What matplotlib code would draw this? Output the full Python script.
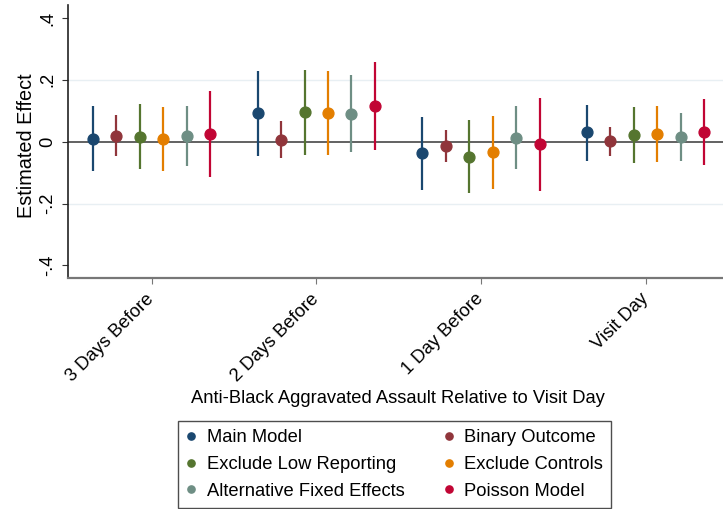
import matplotlib
matplotlib.use("Agg")
import matplotlib.pyplot as plt
from matplotlib.lines import Line2D
import numpy as np

plt.rcParams["font.family"] = ["Liberation Sans", "DejaVu Sans"]

periods = ["3 Days Before", "2 Days Before", "1 Day Before", "Visit Day"]
models = ["Main Model", "Binary Outcome", "Exclude Low Reporting",
          "Exclude Controls", "Alternative Fixed Effects", "Poisson Model"]
colors = ["#1a476f", "#90353b", "#55752f", "#e37e00", "#6e8e84", "#c10534"]

# point estimates per model, one value per period
est_main = [0.010, 0.092, -0.037, 0.031]
est_binary = [0.019, 0.006, -0.015, 0.001]
est_exlow = [0.015, 0.097, -0.050, 0.023]
est_exctrl = [0.008, 0.094, -0.033, 0.025]
est_altfe = [0.019, 0.090, 0.012, 0.016]
est_poisson = [0.025, 0.116, -0.006, 0.030]

# confidence interval bounds
lo_main = [-0.096, -0.045, -0.155, -0.061]
hi_main = [0.114, 0.229, 0.080, 0.119]
lo_binary = [-0.046, -0.053, -0.067, -0.045]
hi_binary = [0.085, 0.068, 0.039, 0.047]
lo_exlow = [-0.087, -0.044, -0.167, -0.069]
hi_exlow = [0.122, 0.232, 0.071, 0.112]
lo_exctrl = [-0.096, -0.044, -0.154, -0.067]
hi_exctrl = [0.111, 0.229, 0.084, 0.114]
lo_altfe = [-0.080, -0.035, -0.090, -0.061]
hi_altfe = [0.116, 0.214, 0.116, 0.093]
lo_poisson = [-0.115, -0.026, -0.160, -0.077]
hi_poisson = [0.165, 0.257, 0.140, 0.139]

estimates = [est_main, est_binary, est_exlow, est_exctrl, est_altfe, est_poisson]
lows = [lo_main, lo_binary, lo_exlow, lo_exctrl, lo_altfe, lo_poisson]
highs = [hi_main, hi_binary, hi_exlow, hi_exctrl, hi_altfe, hi_poisson]

FS = 13.2

fig = plt.figure(figsize=(7.23, 5.09), dpi=100)
ax = fig.add_axes([0.094, 0.4544, 0.906, 0.5358])

x = np.arange(1, len(periods) + 1)
step = 0.1425
for i, (est, lo, hi, c) in enumerate(zip(estimates, lows, highs, colors)):
    xi = x + (i - 2.5) * step
    ax.vlines(xi, lo, hi, color=c, lw=1.6, zorder=3)
    ax.plot(xi, est, "o", color=c, ms=7.8, zorder=4)

ax.axhline(0, color="#555555", lw=1.3, zorder=2)
for g in (-0.2, 0.2):
    ax.axhline(g, color="#e8eff3", lw=1.0, zorder=1)

ax.set_xlim(0.492, 4.47)
ax.set_ylim(-0.44, 0.442)
ax.set_yticks([-0.4, -0.2, 0, 0.2, 0.4])
ax.set_yticklabels(["-.4", "-.2", "0", ".2", ".4"], rotation=90, va="center")
ax.set_xticks(x)
ax.set_xticklabels(periods, rotation=45, ha="right", va="center",
                   rotation_mode="anchor")
ax.tick_params(axis="both", labelsize=FS, color="#333333", length=4.5)
ax.tick_params(axis="y", pad=4)
ax.tick_params(axis="x", color="#777777", length=4, pad=9.5)

for s in ("top", "right"):
    ax.spines[s].set_visible(False)
ax.spines["left"].set_color("#222222")
ax.spines["bottom"].set_color("#777777")
ax.spines["left"].set_linewidth(1.2)
ax.spines["bottom"].set_linewidth(1.6)

ax.set_ylabel("Estimated Effect", fontsize=14.3, labelpad=2)
ax.yaxis.label.set_y(0.485)
fig.text(0.551, 0.218, "Anti-Black Aggravated Assault Relative to Visit Day",
         ha="center", va="center", fontsize=FS)

handles = [Line2D([], [], marker="o", ls="none", color=c, ms=5.2) for c in colors]
order = [0, 2, 4, 1, 3, 5]
leg = fig.legend([handles[k] for k in order], [models[k] for k in order],
                 ncol=2, loc="center", bbox_to_anchor=(0.5455, 0.0874),
                 fontsize=FS, frameon=True, fancybox=False,
                 edgecolor="#222222", handletextpad=0.55, columnspacing=2.1,
                 labelspacing=0.54, borderpad=0.45, handlelength=0.6)
leg.get_frame().set_linewidth(1.0)

fig.savefig("out.png", dpi=100)
